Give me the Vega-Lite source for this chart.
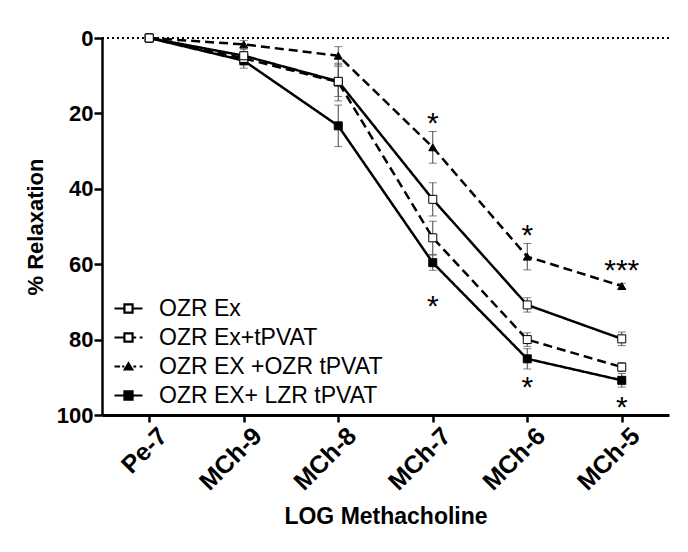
{
  "$schema": "https://vega.github.io/schema/vega-lite/v6.json",
  "width": 567,
  "height": 377,
  "autosize": {"type": "none"},
  "padding": {"left": 102, "top": 38, "right": 19, "bottom": 137},
  "background": "white",
  "config": {
    "view": {"stroke": null},
    "font": "Liberation Sans",
    "axisY": {"tickCount": 5, "grid": false, "tickSize": 8, "tickWidth": 2.5, "domainWidth": 2.5, "domainColor": "black", "tickColor": "black", "labelFontSize": 22, "labelFontWeight": "bold", "labelColor": "black", "labelPadding": 1, "titleFontSize": 22, "titleFontWeight": "bold", "titleColor": "black", "titlePadding": 9},
    "axisX": {"labelAngle": -45, "labelAlign": "right", "labelBaseline": "top", "labelOffset": 5, "grid": false, "tickSize": 7, "tickWidth": 2.5, "domainWidth": 3, "domainColor": "black", "tickColor": "black", "labelFontSize": 25, "labelFontWeight": "bold", "labelColor": "black", "labelPadding": 1, "titleFontSize": 23, "titleFontWeight": "bold", "titleColor": "black", "titlePadding": 11}
  },
  "datasets": {
    "main": [
      {"dose": "Pe-7", "series": "OZR EX+ LZR tPVAT", "value": 0, "lo": 0, "hi": 0},
      {"dose": "MCh-9", "series": "OZR EX+ LZR tPVAT", "value": 6.0, "lo": 4.0, "hi": 8.0},
      {"dose": "MCh-8", "series": "OZR EX+ LZR tPVAT", "value": 23.3, "lo": 17.8, "hi": 28.8},
      {"dose": "MCh-7", "series": "OZR EX+ LZR tPVAT", "value": 59.6, "lo": 57.6, "hi": 61.6},
      {"dose": "MCh-6", "series": "OZR EX+ LZR tPVAT", "value": 85.1, "lo": 82.4, "hi": 87.8},
      {"dose": "MCh-5", "series": "OZR EX+ LZR tPVAT", "value": 90.8, "lo": 89.0, "hi": 92.6},
      {"dose": "Pe-7", "series": "OZR EX +OZR tPVAT", "value": 0, "lo": 0, "hi": 0},
      {"dose": "MCh-9", "series": "OZR EX +OZR tPVAT", "value": 1.7, "lo": 0.7, "hi": 2.7},
      {"dose": "MCh-8", "series": "OZR EX +OZR tPVAT", "value": 4.7, "lo": 2.3, "hi": 7.1},
      {"dose": "MCh-7", "series": "OZR EX +OZR tPVAT", "value": 29.0, "lo": 24.8, "hi": 33.2},
      {"dose": "MCh-6", "series": "OZR EX +OZR tPVAT", "value": 58.0, "lo": 54.5, "hi": 61.5},
      {"dose": "MCh-5", "series": "OZR EX +OZR tPVAT", "value": 65.8, "lo": 65.1, "hi": 66.5},
      {"dose": "Pe-7", "series": "OZR Ex+tPVAT", "value": 0, "lo": 0, "hi": 0},
      {"dose": "MCh-9", "series": "OZR Ex+tPVAT", "value": 5.4, "lo": 3.6, "hi": 7.2},
      {"dose": "MCh-8", "series": "OZR Ex+tPVAT", "value": 11.7, "lo": 6.7, "hi": 16.7},
      {"dose": "MCh-7", "series": "OZR Ex+tPVAT", "value": 53.0, "lo": 48.6, "hi": 57.4},
      {"dose": "MCh-6", "series": "OZR Ex+tPVAT", "value": 80.0, "lo": 78.2, "hi": 81.8},
      {"dose": "MCh-5", "series": "OZR Ex+tPVAT", "value": 87.3, "lo": 86.1, "hi": 88.5},
      {"dose": "Pe-7", "series": "OZR Ex", "value": 0, "lo": 0, "hi": 0},
      {"dose": "MCh-9", "series": "OZR Ex", "value": 4.7, "lo": 3.0, "hi": 6.4},
      {"dose": "MCh-8", "series": "OZR Ex", "value": 11.5, "lo": 7.5, "hi": 15.5},
      {"dose": "MCh-7", "series": "OZR Ex", "value": 42.8, "lo": 38.4, "hi": 47.2},
      {"dose": "MCh-6", "series": "OZR Ex", "value": 70.8, "lo": 68.9, "hi": 72.7},
      {"dose": "MCh-5", "series": "OZR Ex", "value": 79.8, "lo": 78.0, "hi": 81.6}
    ],
    "stars": [
      {"dose": "MCh-7", "pos": 20.6, "label": "*"},
      {"dose": "MCh-7", "pos": 69.2, "label": "*"},
      {"dose": "MCh-6", "pos": 50.3, "label": "*"},
      {"dose": "MCh-6", "pos": 90.7, "label": "*"},
      {"dose": "MCh-5", "pos": 59.6, "label": "***"},
      {"dose": "MCh-5", "pos": 96.0, "label": "*"}
    ],
    "zero": [{"v": 0}]
  },
  "resolve": {"scale": {"shape": "independent", "fill": "independent"}},
  "layer": [
    {
      "data": {"name": "zero"},
      "mark": {"type": "rule", "strokeDash": [2, 3], "strokeWidth": 2, "color": "black"},
      "encoding": {
        "y": {"field": "v", "type": "quantitative", "scale": {"domain": [0, 100], "reverse": true, "nice": false}, "title": "% Relaxation"}
      }
    },
    {
      "data": {"name": "main"},
      "transform": [{"filter": "datum.dose != 'Pe-7'"}],
      "mark": {"type": "errorbar", "ticks": {"size": 8, "color": "#444", "thickness": 1}, "rule": {"color": "#444", "strokeWidth": 1}},
      "encoding": {
        "x": {"field": "dose", "type": "nominal", "scale": {"type": "point", "domain": ["Pe-7", "MCh-9", "MCh-8", "MCh-7", "MCh-6", "MCh-5"]}, "title": "LOG Methacholine"},
        "y": {"field": "lo", "type": "quantitative", "title": "% Relaxation"},
        "y2": {"field": "hi"}
      }
    },
    {
      "data": {"name": "main"},
      "mark": {"type": "line", "strokeWidth": 2.5, "color": "black"},
      "encoding": {
        "x": {"field": "dose", "type": "nominal", "scale": {"type": "point", "domain": ["Pe-7", "MCh-9", "MCh-8", "MCh-7", "MCh-6", "MCh-5"]}, "title": "LOG Methacholine"},
        "y": {"field": "value", "type": "quantitative", "title": "% Relaxation"},
        "detail": {"field": "series"},
        "strokeDash": {"field": "series", "type": "nominal", "legend": null,
          "scale": {"domain": ["OZR Ex", "OZR Ex+tPVAT", "OZR EX +OZR tPVAT", "OZR EX+ LZR tPVAT"], "range": [[1, 0], [9, 5], [9, 5], [1, 0]]}}
      }
    },
    {
      "data": {"name": "main"},
      "mark": {"type": "point", "filled": true, "stroke": "black", "strokeWidth": 1, "size": 64, "opacity": 1},
      "encoding": {
        "x": {"field": "dose", "type": "nominal", "scale": {"type": "point", "domain": ["Pe-7", "MCh-9", "MCh-8", "MCh-7", "MCh-6", "MCh-5"]}, "title": "LOG Methacholine"},
        "y": {"field": "value", "type": "quantitative", "title": "% Relaxation"},
        "shape": {"field": "series", "type": "nominal", "legend": null,
          "scale": {"domain": ["OZR Ex", "OZR Ex+tPVAT", "OZR EX +OZR tPVAT", "OZR EX+ LZR tPVAT"], "range": ["square", "square", "triangle-up", "square"]}},
        "fill": {"field": "series", "type": "nominal", "legend": null,
          "scale": {"domain": ["OZR Ex", "OZR Ex+tPVAT", "OZR EX +OZR tPVAT", "OZR EX+ LZR tPVAT"], "range": ["white", "white", "black", "black"]}}
      }
    },
    {
      "data": {"name": "main"},
      "transform": [{"filter": "datum.dose == 'Pe-7'"}],
      "mark": {"type": "point", "filled": true, "opacity": 0, "size": 10},
      "encoding": {
        "x": {"field": "dose", "type": "nominal", "scale": {"type": "point", "domain": ["Pe-7", "MCh-9", "MCh-8", "MCh-7", "MCh-6", "MCh-5"]}, "title": "LOG Methacholine"},
        "y": {"field": "value", "type": "quantitative", "title": "% Relaxation"},
        "shape": {"field": "series", "type": "nominal",
          "scale": {"domain": ["OZR Ex", "OZR Ex+tPVAT", "OZR EX +OZR tPVAT", "OZR EX+ LZR tPVAT"],
            "range": [
              "M-1,0H-0.29M0.29,0H1M-0.29,-0.29H0.29V0.29H-0.29Z",
              "M-1,0H-0.35M0.35,0H0.55M0.8,0H1M-0.29,-0.29H0.29V0.29H-0.29Z",
              "M-1,0H-0.6M-0.45,0H-0.3M0.35,0H0.55M0.8,0H1M-0.26,0.2L0,-0.22L0.26,0.2Z",
              "M-1,0H1M-0.29,-0.29H0.29V0.29H-0.29Z"
            ]},
          "legend": {"title": null, "orient": "none", "legendX": 11, "legendY": 255, "padding": 0, "symbolSize": 784, "labelFontSize": 23, "labelColor": "black", "labelOffset": 15, "rowPadding": 1, "labelLimit": 400,
            "encode": {"symbols": {"update": {"stroke": {"value": "black"}, "strokeWidth": {"value": 2.2}, "opacity": {"value": 1}}}}}},
        "fill": {"field": "series", "type": "nominal",
          "scale": {"domain": ["OZR Ex", "OZR Ex+tPVAT", "OZR EX +OZR tPVAT", "OZR EX+ LZR tPVAT"], "range": ["white", "white", "black", "black"]},
          "legend": {"title": null, "orient": "none", "legendX": 11, "legendY": 255, "padding": 0, "symbolSize": 784, "labelFontSize": 23, "labelColor": "black", "labelOffset": 15, "rowPadding": 1, "labelLimit": 400,
            "encode": {"symbols": {"update": {"stroke": {"value": "black"}, "strokeWidth": {"value": 2.2}, "opacity": {"value": 1}}}}}}
      }
    },
    {
      "data": {"name": "stars"},
      "mark": {"type": "text", "fontSize": 30, "baseline": "alphabetic", "dy": 17, "color": "black"},
      "encoding": {
        "x": {"field": "dose", "type": "nominal", "scale": {"type": "point", "domain": ["Pe-7", "MCh-9", "MCh-8", "MCh-7", "MCh-6", "MCh-5"]}, "title": "LOG Methacholine"},
        "y": {"field": "pos", "type": "quantitative", "title": "% Relaxation"},
        "text": {"field": "label"}
      }
    }
  ]
}
